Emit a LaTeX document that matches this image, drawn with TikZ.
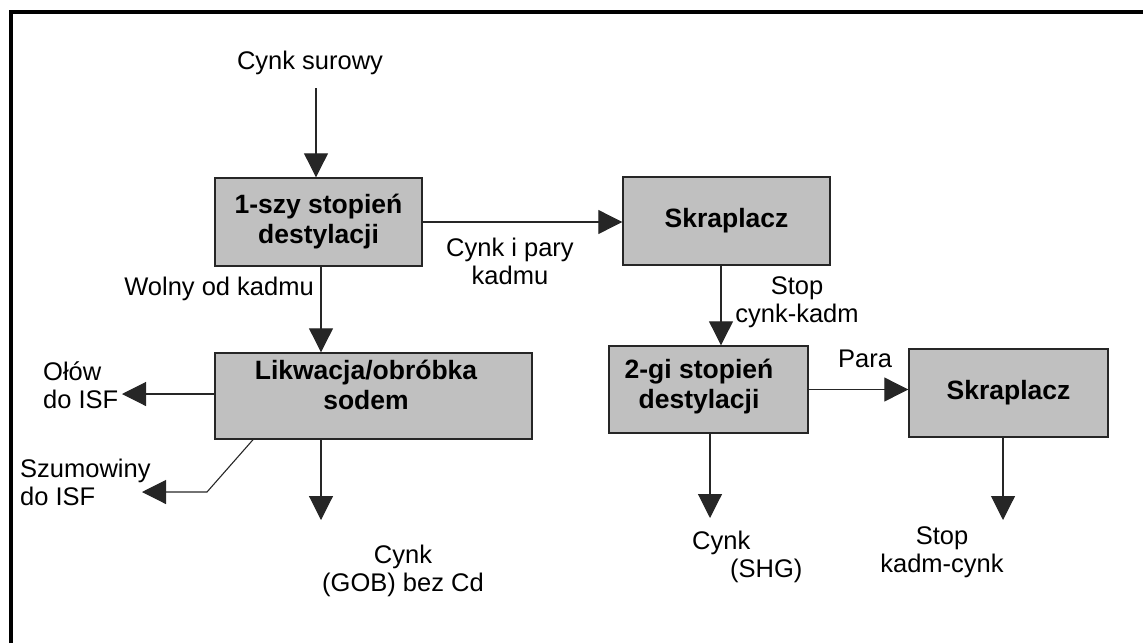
\documentclass[tikz,border=0pt]{standalone}
\usepackage{fontspec}
\setmainfont{Liberation Sans}
\usetikzlibrary{arrows.meta}
\definecolor{boxgray}{RGB}{192,192,192}
\begin{document}
\begin{tikzpicture}[x=1pt,y=-1pt,
  unit/.style={draw=black!85, line width=1.4pt, fill=boxgray, inner sep=0pt,
    align=center, font=\bfseries\fontsize{26.5}{30}\selectfont},
  boxtext/.style={inner sep=0pt, align=center, font=\bfseries\fontsize{26.5}{30}\selectfont},
  note/.style={inner sep=0pt, font=\fontsize{25.5}{28}\selectfont},
  flow/.style={draw=black!85, line width=1.1pt, -{Triangle[length=24pt,width=24pt]}}]
\useasboundingbox (0,0) rectangle (1143,643);

% frame
\draw[line width=4pt] (11,643) -- (11,12) -- (1143,12);

% process units
\node[unit, minimum width=207pt, minimum height=88pt] (box1) at (318.5,222) {1-szy stopień\\destylacji};
\node[unit, minimum width=207pt, minimum height=88pt] (sk1) at (726.5,221) {Skraplacz};
\node[unit, minimum width=317pt, minimum height=86pt] (box2) at (373.5,396) {};
\node[boxtext] (box2t) at (366,384.5) {Likwacja/obróbka\\sodem};
\node[unit, minimum width=199pt, minimum height=87pt] (box3) at (708.5,389.5) {};
\node[boxtext] (box3t) at (699,387) {2-gi stopień\\destylacji};
\node[unit, minimum width=199pt, minimum height=88pt] (sk2) at (1008.5,393) {Skraplacz};

% feed
\node[note] (raw) at (310,62.5) {Cynk surowy};
\coordinate (rawout) at (316,88);
\draw[flow] (rawout) -- (rawout |- box1.north);

% first stage outputs
\draw[flow] (box1.east) -- (box1.east -| sk1.west);
\node[note, align=center] (vap) at (510,261) {Cynk i pary\\kadmu};
\draw[flow] ([xshift=2.5pt]box1.south) -- ([xshift=2.5pt]box1.south |- box2.north);
\node[note, anchor=east] (free) at (314,288.5) {Wolny od kadmu};

% condenser to second stage
\draw[flow] ([xshift=-5.5pt]sk1.south) -- ([xshift=-5.5pt]sk1.south |- box3.north);
\node[note, align=center] (alloy1) at (797,302) {Stop\\cynk-kadm};

% second stage to condenser
\draw[flow] (box3.east) -- (box3.east -| sk2.west);
\node[note] (para) at (865,359) {Para};

% liquation products
\coordinate (leadtip) at (122,394);
\draw[flow] (box2.west |- leadtip) -- (leadtip);
\node[note, align=left, anchor=west] (lead) at (43,385.5) {Ołów\\do ISF};

\coordinate (drossbend) at (207,492);
\coordinate (drosstip) at (142,492);
\draw[flow] ([xshift=-120.5pt]box2.south) -- (drossbend) -- (drosstip);
\node[note, align=left, anchor=west] (dross) at (20,482) {Szumowiny\\do ISF};

\coordinate (gobtip) at (321,520);
\draw[flow] (box2.south -| gobtip) -- (gobtip);
\node[note, align=center] (gob) at (403,571) {Cynk\\(GOB) bez Cd};

% final products
\coordinate (shgtip) at (710,518);
\draw[flow] (box3.south -| shgtip) -- (shgtip);
\node[note, align=left, anchor=west] (shg) at (692,557) {Cynk\\\hspace*{38pt}(SHG)};

\coordinate (cdtip) at (1003,520);
\draw[flow] (sk2.south -| cdtip) -- (cdtip);
\node[note, align=center] (alloy2) at (942,552.5) {Stop\\kadm-cynk};
\end{tikzpicture}
\end{document}
